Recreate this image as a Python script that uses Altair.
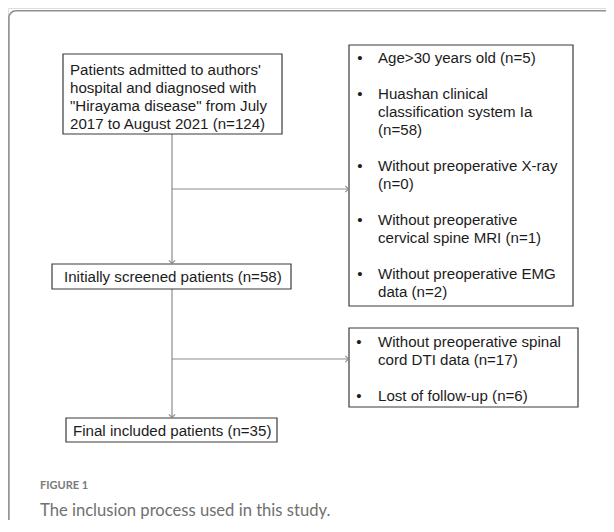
import altair as alt
import pandas as pd

# ---------------- data (texts of the flow chart) ----------------
source_lines = [
    "Patients admitted to authors'",
    "hospital and diagnosed with",
    "\"Hirayama disease\" from July",
    "2017 to August 2021 (n=124)",
]
screened_lines = ["Initially screened patients (n=58)"]
final_lines = ["Final included patients (n=35)"]
exclusion1_items = [
    ["Age>30 years old (n=5)"],
    ["Huashan clinical", "classification system Ia", "(n=58)"],
    ["Without preoperative X-ray", "(n=0)"],
    ["Without preoperative", "cervical spine MRI (n=1)"],
    ["Without preoperative EMG", "data (n=2)"],
]
exclusion2_items = [
    ["Without preoperative spinal", "cord DTI data (n=17)"],
    ["Lost of follow-up (n=6)"],
]
caption_label = "FIGURE 1"
caption_text = "The inclusion process used in this study."

# ---------------- layout (page pixel coordinates) ----------------
W, H = 598, 512
XS = alt.Scale(domain=[8, 8 + W], nice=False, zero=False)
YS = alt.Scale(domain=[8, 8 + H], nice=False, zero=False, reverse=True)
LINE = 18
FONT = "Arial, 'Liberation Sans', sans-serif"
FS = 15.1

boxes = {
    "source": dict(x=63, x2=282, y=54, y2=134),
    "excl1": dict(x=349, x2=573, y=45, y2=306),
    "screened": dict(x=52, x2=291, y=264, y2=289),
    "excl2": dict(x=349, x2=578, y=328, y2=407),
    "final": dict(x=66, x2=277, y=418, y2=442),
}
MAIN_X = 172
BRANCH1_Y = 189
BRANCH2_Y = 359


def X(field, **kw):
    return alt.X(field, type="quantitative", scale=XS, axis=None, **kw)


def Y(field, **kw):
    return alt.Y(field, type="quantitative", scale=YS, axis=None, **kw)


# outer frame
frame_df = pd.DataFrame([dict(x=8.9, x2=640, y=10.8, y2=560)])
frame = alt.Chart(frame_df).mark_rect(
    fill="white", fillOpacity=0, stroke="#8f8f8f", strokeWidth=1.6, cornerRadius=7
).encode(x=X("x"), x2="x2", y=Y("y"), y2="y2")

# boxes
box_df = pd.DataFrame([dict(name=k, **v) for k, v in boxes.items()])
box_layer = alt.Chart(box_df).mark_rect(
    fill="white", stroke="#3a3a3a", strokeWidth=1.2
).encode(x=X("x"), x2="x2", y=Y("y"), y2="y2")

# connectors
b = boxes
seg_df = pd.DataFrame([
    dict(x=MAIN_X, x2=MAIN_X, y=b["source"]["y2"], y2=b["screened"]["y"]),
    dict(x=MAIN_X, x2=MAIN_X, y=b["screened"]["y2"], y2=b["final"]["y"]),
    dict(x=MAIN_X, x2=b["excl1"]["x"], y=BRANCH1_Y, y2=BRANCH1_Y),
    dict(x=MAIN_X, x2=b["excl2"]["x"], y=BRANCH2_Y, y2=BRANCH2_Y),
])
segs = alt.Chart(seg_df).mark_rule(color="#8c8c8c", strokeWidth=1.2).encode(
    x=X("x"), x2="x2", y=Y("y"), y2="y2"
)

right_df = pd.DataFrame([
    dict(x=b["excl1"]["x"] - 0.5, y=BRANCH1_Y),
    dict(x=b["excl2"]["x"] - 0.5, y=BRANCH2_Y),
])
down_df = pd.DataFrame([
    dict(x=MAIN_X, y=b["screened"]["y"] - 0.5),
    dict(x=MAIN_X, y=b["final"]["y"] - 0.5),
])
arrow_right = alt.Chart(right_df).mark_point(
    shape="M-1,-1L0,0L-1,1", filled=False, size=40, color="#8c8c8c", strokeWidth=1.1, opacity=1
).encode(x=X("x"), y=Y("y"))
arrow_down = alt.Chart(down_df).mark_point(
    shape="M-1,-1L0,0L1,-1", filled=False, size=40, color="#8c8c8c", strokeWidth=1.1, opacity=1
).encode(x=X("x"), y=Y("y"))

# text lines
rows = []
for i, t in enumerate(source_lines):
    rows.append(dict(x=70, y=70 + i * LINE, text=t))
for t in screened_lines:
    rows.append(dict(x=64, y=277, text=t))
for t in final_lines:
    rows.append(dict(x=73, y=430.5, text=t))

bullets = []
yy = 58
for item in exclusion1_items:
    bullets.append(dict(x=360, y=yy, text="•"))
    for t in item:
        rows.append(dict(x=378, y=yy, text=t))
        yy += LINE
    yy += LINE
yy = 342
for item in exclusion2_items:
    bullets.append(dict(x=359, y=yy, text="•"))
    for t in item:
        rows.append(dict(x=378, y=yy, text=t))
        yy += LINE
    yy += LINE

text_layer = alt.Chart(pd.DataFrame(rows)).mark_text(
    align="left", baseline="middle", font=FONT, fontSize=FS, color="#1c1c1c"
).encode(x=X("x"), y=Y("y"), text="text:N")
bullet_layer = alt.Chart(pd.DataFrame(bullets)).mark_text(
    align="center", baseline="middle", font=FONT, fontSize=FS, color="#1c1c1c"
).encode(x=X("x"), y=Y("y"), text="text:N")

cap1 = alt.Chart(pd.DataFrame([dict(x=40, y=486, text=caption_label)])).mark_text(
    align="left", baseline="middle", font="Lato", fontSize=11, fontWeight="bold", color="#7a7a7a"
).encode(x=X("x"), y=Y("y"), text="text:N")
cap2 = alt.Chart(pd.DataFrame([dict(x=40, y=511, text=caption_text)])).mark_text(
    align="left", baseline="middle", font="Lato", fontSize=16.6, color="#707070"
).encode(x=X("x"), y=Y("y"), text="text:N")

chart = alt.layer(
    frame, segs, box_layer, arrow_right, arrow_down, text_layer, bullet_layer, cap1, cap2
).properties(
    width=W, height=H, padding=0, autosize=alt.AutoSizeParams(type="none")
).configure_view(stroke=None).configure(background="white")

chart.save("out.html", embed_options={"renderer": "svg", "actions": False})
